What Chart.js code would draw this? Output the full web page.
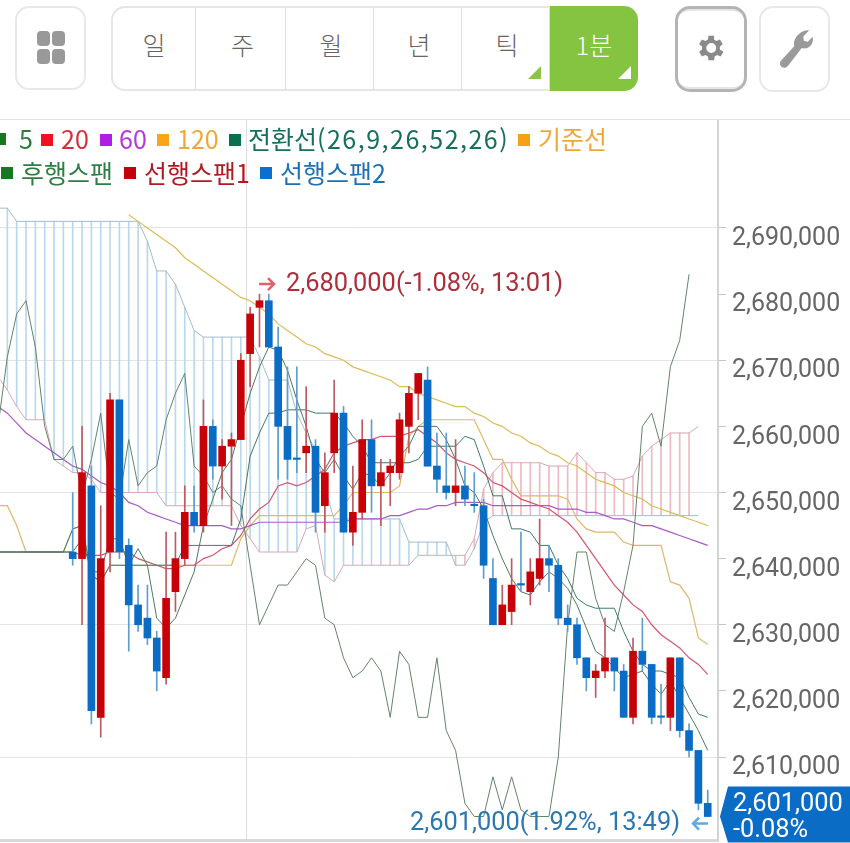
<!DOCTYPE html>
<html lang="ko">
<head>
<meta charset="utf-8">
<title>차트</title>
<script src="https://cdn.jsdelivr.net/npm/chart.js@4"></script>
<style>
  html, body { margin: 0; padding: 0; background: #fff; width: 850px; height: 843px; overflow: hidden; }
  #wrap { position: relative; width: 850px; height: 843px; font-family: "Noto Sans CJK KR", "Noto Sans", sans-serif; }
  canvas { position: absolute; left: 0; top: 0; }
  .box { position: absolute; top: 6px; height: 84px; box-sizing: border-box; border: 2px solid #e8e8e8; border-radius: 14px; background: #fff; }
  .seg { position: absolute; top: 6px; height: 85px; box-sizing: border-box; border-top: 2px solid #e6e6e6; border-bottom: 2px solid #e6e6e6; border-right: 1px solid #dedede; color: #666; font-size: 25px; font-weight: 300; text-align: center; line-height: 72px; background: #fff; }
  .tri { position: absolute; width: 0; height: 0; border-left: 13px solid transparent; border-bottom: 13px solid #8cc443; right: 8px; bottom: 10px; }
  .dot { position: absolute; width: 13px; height: 15px; background: #999; border-radius: 4px; }
  .leg { position: absolute; font-size: 25px; line-height: 30px; white-space: nowrap; }
  .sq { position: absolute; width: 12px; height: 12px; }
  #topline { position: absolute; left: 0; top: 119px; width: 850px; height: 1px; background: #e2e2e2; }
</style>
</head>
<body>
<div id="wrap">
  <canvas id="chart" width="850" height="843"></canvas>
  <div id="topline"></div>

  <div class="box" style="left:15px;width:71px;">
    <div class="dot" style="left:20px;top:23px;"></div><div class="dot" style="left:35px;top:23px;"></div>
    <div class="dot" style="left:20px;top:41px;"></div><div class="dot" style="left:35px;top:41px;"></div>
  </div>

  <div class="seg" style="left:111px;width:85px;border-left:2px solid #e6e6e6;border-radius:14px 0 0 14px;">일</div>
  <div class="seg" style="left:196px;width:90px;padding-left:4px;">주</div>
  <div class="seg" style="left:286px;width:88px;padding-left:3px;">월</div>
  <div class="seg" style="left:374px;width:88px;padding-left:3px;">년</div>
  <div class="seg" style="left:462px;width:88px;padding-left:3px;">틱<div class="tri"></div></div>
  <div class="seg" style="left:550px;width:88px;background:#85c441;color:#fff;border:none;border-radius:0 14px 14px 0;line-height:76px;">1분<div class="tri" style="border-bottom-color:#fff;right:7px;bottom:12px;"></div></div>

  <div class="box" style="left:675px;width:72px;height:86px;border:3px solid #b4b4b4;border-radius:15px;box-shadow:inset 0 6px 0 -4px #e6e6e6, inset 0 -9px 0 -7px #e6e6e6;">
    <svg width="34" height="34" viewBox="0 0 24 24" style="position:absolute;left:16px;top:22px;"><path fill="#8a8a8a" d="M19.4 13a7.6 7.6 0 0 0 0-2l2.1-1.6-2-3.4-2.5 1a7.400 7.400 0 0 0-1.700-1L15.400 3.300h-4l-.4 2.700a7.400 7.400 0 0 0-1.700 1l-2.500-1-2 3.400L6.900 11a7.600 7.600 0 0 0 0 2l-2.100 1.600 2 3.400 2.500-1a7.400 7.400 0 0 0 1.700 1l.4 2.700h4l.4-2.700a7.400 7.400 0 0 0 1.700-1l2.500 1 2-3.400zM13.400 15.500a3.500 3.500 0 1 1 0-7 3.500 3.500 0 0 1 0 7z" transform="translate(-1.200 0)"/></svg>
  </div>
  <div class="box" style="left:759px;width:71px;height:86px;">
    <svg width="36" height="42" viewBox="0 0 24 28" style="position:absolute;left:16px;top:20px;"><path fill="#9a9a9a" d="M21.500 1.500l-4 4.200.4 2.800 2.700.6 3.100-3.300c.7 3-.3 5.600-2.600 7-1.500.9-3.200 1-4.600.5L7.500 25c-1.100 1.600-3 2-4.300 1-1.400-1-1.600-2.800-.6-4.200l8.900-9.700c-.5-1.900-.1-4 1.300-6.100 1.900-2.900 5.400-5 8.700-4.500z"/></svg>
  </div>

  <div class="sq" style="left:-6px;top:133px;background:#17791f;"></div>
  <div class="leg" style="left:19px;top:123px;color:#2b7d3e;">5</div>
  <div class="sq" style="left:41px;top:134px;background:#f01020;"></div>
  <div class="leg" style="left:61px;top:123px;color:#d4303c;">20</div>
  <div class="sq" style="left:100px;top:134px;background:#b01ee6;"></div>
  <div class="leg" style="left:119px;top:123px;color:#b23ad8;">60</div>
  <div class="sq" style="left:157px;top:134px;background:#f9a51a;"></div>
  <div class="leg" style="left:177px;top:123px;color:#eea83a;">120</div>
  <div class="sq" style="left:229px;top:134px;background:#07704f;"></div>
  <div class="leg" style="left:248px;top:123px;color:#17705c;">전환선<span style="letter-spacing:1.5px;">(26,9,26,52,26)</span></div>
  <div class="sq" style="left:518px;top:134px;background:#f5a219;"></div>
  <div class="leg" style="left:538px;top:123px;color:#eea83a;">기준선</div>

  <div class="sq" style="left:1px;top:167px;background:#17791f;"></div>
  <div class="leg" style="left:21px;top:157px;color:#2f7d45;">후행스팬</div>
  <div class="sq" style="left:124px;top:167px;background:#c4000b;"></div>
  <div class="leg" style="left:144px;top:157px;color:#b01a22;">선행스팬1</div>
  <div class="sq" style="left:260px;top:167px;background:#0b6fd0;"></div>
  <div class="leg" style="left:280px;top:157px;color:#1c72b4;">선행스팬2</div>
</div>

<script>
// values are in thousands of won
var tickPrices = [2610, 2620, 2630, 2640, 2650, 2660, 2670, 2680, 2690];

// candles start at bar 8, the bars before that only have lines
var firstCandle = 8;
var opens = [2641,2640,2651,2616,2641,2664,2642,2633,2631,2628,2622,2635,2640,2647,2645,2660,2654,2657,2658,2671,2678,2679,2672,2660,2655,2656,2657,2648,2656,2662,2644,2647,2658,2651,2653,2653,2660,2665,2667,2654,2651,2650,2651,2648,2648,2637,2630,2632,2636,2635,2637,2640,2639,2631,2630,2625,2622,2623,2625,2623,2616,2626,2624,2616,2616,2625,2614,2611,2603];
var highs = [2650,2660,2654,2648,2665,2664,2643,2636,2636,2629,2644,2644,2651,2651,2664,2661,2658,2659,2671,2678,2680,2680,2675,2669,2669,2666,2658,2656,2667,2663,2654,2661,2661,2655,2655,2662,2666,2668,2669,2659,2659,2658,2654,2653,2649,2640,2636,2640,2644,2640,2646,2642,2640,2633,2631,2625,2624,2631,2625,2624,2628,2631,2624,2621,2625,2625,2615,2611,2605];
var lows = [2639,2630,2615,2613,2638,2640,2626,2629,2627,2620,2621,2632,2639,2644,2644,2652,2649,2645,2658,2666,2672,2672,2652,2652,2653,2653,2644,2644,2653,2644,2642,2646,2647,2645,2648,2652,2656,2661,2654,2650,2649,2648,2648,2647,2637,2630,2630,2630,2635,2633,2636,2635,2630,2629,2624,2620,2619,2622,2620,2616,2615,2623,2615,2615,2614,2613,2610,2602,2601];
var closes = [2640,2653,2617,2640,2664,2641,2633,2630,2628,2623,2634,2640,2647,2645,2660,2654,2657,2658,2670,2677,2679,2672,2660,2655,2655,2657,2647,2653,2662,2644,2647,2658,2651,2653,2654,2661,2665,2668,2654,2652,2650,2651,2649,2648,2639,2630,2633,2636,2636,2638,2640,2639,2631,2630,2625,2622,2623,2625,2623,2616,2626,2624,2616,2616,2625,2614,2611,2603,2601];

// lines, one value per bar from bar 0
var ma5 = [2641,2641,2641,2641,2641,2641,2641,2641,2641,2643,2638,2638,2643,2643,2639,2641.5,2639,2631,2629.5,2631,2634.5,2638,2645,2649,2653,2655,2660,2665,2669,2672,2671.5,2668.5,2664,2660,2655,2653,2655,2652.5,2650.5,2653,2652.5,2651,2653,2655.5,2657,2660,2660,2660,2658,2655,2651,2650,2647.5,2643.5,2640,2637,2635,2634.5,2636.5,2638,2637,2635.5,2633,2629.5,2626,2625,2623.5,2622,2622.5,2623,2621,2619.5,2621.5,2619,2616.5,2614,2611];
var ma20 = [2641,2641,2641,2641,2641,2641,2641,2641,2641,2640.5,2640.5,2640.5,2641,2641,2641,2640,2639.5,2639,2638.5,2638.5,2639,2639,2640,2640.5,2641.5,2642,2643.5,2646,2647.5,2648.5,2651,2651.5,2651,2651.5,2652.5,2653.5,2656,2657,2657.5,2658,2658,2658.5,2658.5,2658.5,2659,2659.5,2658.5,2657.5,2656,2655,2654.5,2654,2653,2651.5,2651,2650,2649,2648.5,2648,2647.5,2646.5,2645.5,2644,2642,2640,2638,2636,2634.5,2633,2632,2630,2628.5,2627.5,2626.5,2625,2624,2622.5];
var ma60 = [2663,2662,2660.5,2659,2658,2657,2656,2655,2654,2653.5,2652.5,2651.5,2651,2650,2648.5,2648,2647,2646.5,2646,2645.5,2645,2645,2645,2645,2645,2644.5,2644.5,2645,2645.5,2645.5,2645.5,2645.5,2645.5,2645.5,2645.5,2645.5,2645.5,2645.5,2646,2646,2646,2646,2646.5,2646.5,2647,2647.5,2647.5,2648,2648,2648.5,2648.5,2648.5,2648.5,2648,2648,2648,2648,2648,2648,2648,2647.5,2647.5,2647.5,2647,2647,2646.5,2646,2646,2645.5,2645,2645,2644.5,2644,2643.5,2643,2642.5,2642];
var ma120 = [null,null,null,null,null,null,null,null,null,null,null,null,null,null,2692,2691,2690,2689,2688,2687,2685.5,2684.5,2683.5,2682.5,2681.5,2680.5,2679.5,2679,2678,2677,2675.5,2674.5,2673.5,2672.5,2672,2671,2670.5,2670,2669,2668.5,2668,2667.5,2667,2666,2666,2665,2664.5,2664,2663.5,2663,2663,2662,2661.5,2660.5,2660,2659,2658.5,2657.5,2657,2656,2655.5,2654.5,2654,2653,2652,2651.5,2651,2650,2649.5,2649,2648,2647.5,2647,2646.5,2646,2645.5,2645];
var tenkan = [2641,2641,2641,2641,2641,2641,2641,2641,2644.5,2645,2637.5,2636.5,2639,2639,2639,2639,2639,2639,2639,2639,2642,2642,2642,2642,2642,2642,2646,2655.5,2659,2662,2662,2662.5,2662.5,2662.5,2662,2662,2662,2660.5,2658.5,2657,2654.5,2654.5,2654.5,2654.5,2654.5,2655,2657,2657,2657,2657,2658.5,2658,2654,2649.5,2649.5,2644.5,2644.5,2644,2642,2642,2639,2637,2634,2633,2632.5,2632.5,2632.5,2629,2626,2624,2623,2623,2622.5,2622,2619,2616.5,2616];
var kijun = [2648,2648,2645,2641,2641,2641,2641,2641,2644.5,2645,2637.5,2636.5,2639,2639,2639,2639,2639,2639,2639,2639,2639,2639,2639,2639,2639,2639,2643,2645,2646.5,2646.5,2646.5,2646.5,2646.5,2646.5,2646.5,2646.5,2646.5,2648,2650,2650,2650,2650,2650,2651,2658.5,2660,2661,2661,2661,2661,2661,2661,2658,2655,2655,2652,2649.5,2649.5,2649.5,2649.5,2649.5,2649,2646,2644.5,2644,2644,2644,2642.5,2642,2642,2642,2642,2636.5,2636,2634,2628,2627];
var lagSpan = [2660,2670.5,2677,2679,2672,2660,2655,2655,2657,2649.5,2655,2662,2650,2649,2658,2651,2653,2654,2661,2665,2668,2654,2652.5,2650,2651,2649,2648,2639,2630,2633,2636,2636,2638,2640,2639,2631,2630,2625,2622,2623,2625,2623,2616,2626,2624,2616,2616,2625,2614,2611,2603,2601,2601,2607,2602,2607,2602,2601,2601,2601,2610,2630,2641,2641,2634,2630,2629,2635,2642,2660,2662,2657,2669,2673,2683];
var spanA = [2667.5,2665.5,2663,2661,2661,2661,2655,2654,2653,2653,2652,2650,2650,2650,2650,2650,2650,2650,2648,2648,2648,2648,2648,2648,2648,2648,2645,2643,2641,2641,2641,2641,2641,2644.5,2645,2637.5,2636.5,2639,2639,2639,2639,2639,2639,2639,2639,2640.5,2640.5,2640.5,2640.5,2640.5,2640.5,2643,2650.5,2653,2654.5,2654.5,2654.5,2654.5,2654.5,2654,2654,2654,2656,2654.5,2653,2653,2652,2652,2652.5,2655.5,2657,2658,2659,2659,2659,2660];
var spanB = [2693,2693,2691,2691,2691,2691,2691,2691,2691,2691,2691,2691,2691,2691,2691,2691,2688,2683.5,2683.5,2681.5,2678,2674.5,2673.5,2673.5,2673.5,2673.5,2673.5,2673.5,2670.5,2667,2667,2667,2662,2659,2656.5,2650.5,2646,2646,2646,2646,2646,2646,2646,2646,2642.5,2642.5,2642.5,2642.5,2642.5,2639,2639,2641.5,2645.5,2646.5,2646.5,2646.5,2646.5,2646.5,2646.5,2646.5,2646.5,2646.5,2646.5,2646.5,2646.5,2646.5,2646.5,2646.5,2646.5,2646.5,2646.5,2646.5,2646.5,2646.5,2646.5,2646.5];

var highNote = '2,680,000(-1.08%, 13:01)';
var lowNote = '2,601,000(1.92%, 13:49)';
var tagPrice = '2,601,000';
var tagChange = '-0.08%';
var noteHigh = 2680;
var noteLow = 2601;
var timeBoundary = 26.66; // the one vertical grid line

var red = '#c80008';
var blue = '#0b6cc6';
var labelFont = '25.4px Roboto';

function toPoints(values) {
  return values.map(function (v, i) { return { x: i, y: v }; });
}

var wickRed = [], wickBlue = [], bodyRed = [], bodyBlue = [];
closes.forEach(function (c, k) {
  var x = k + firstCandle;
  var up = c > opens[k];
  (up ? wickRed : wickBlue).push({ x: x, y: [lows[k], highs[k]] });
  (up ? bodyRed : bodyBlue).push({ x: x, y: [opens[k], c] });
});

// hatching of the cloud, blue while span 2 is on top, red after it crosses
var hatchBlue = [], hatchRed = [];
spanA.forEach(function (a, i) {
  if (i === spanA.length - 1) return; // last span point has no hatch line
  (spanB[i] >= a ? hatchBlue : hatchRed).push({ x: i, y: [a, spanB[i]] });
});

function barSet(data, color, width, order, minLength) {
  return { type: 'bar', data: data, backgroundColor: color, barThickness: width, grouped: false, order: order, minBarLength: minLength || 0 };
}
function lineSet(values, color, order, width) {
  return { type: 'line', data: toPoints(values), borderColor: color, borderWidth: width || 1, pointRadius: 0, tension: 0, spanGaps: false, order: order };
}

// notes and the price tag, anchored on the price scale
var notesPlugin = {
  id: 'notes',
  afterDraw: function (chart) {
    var ctx = chart.ctx;
    var y = chart.scales.y;
    ctx.save();
    ctx.font = labelFont;
    ctx.textBaseline = 'middle';

    var yHigh = y.getPixelForValue(noteHigh) - 9;
    ctx.fillStyle = '#ad2f3c';
    ctx.textAlign = 'left';
    ctx.fillText(highNote, 286, yHigh);
    drawArrow(ctx, 259, 274, yHigh - 1, '#e4606a');

    var yLow = y.getPixelForValue(noteLow) + 7;
    ctx.fillStyle = '#2b78b0';
    ctx.textAlign = 'right';
    ctx.fillText(lowNote, 680, yLow);
    drawArrow(ctx, 708, 693, yLow, '#62a8e2');

    var yTag = y.getPixelForValue(noteLow);
    ctx.fillStyle = '#0b6cc6';
    ctx.beginPath();
    ctx.moveTo(720, yTag);
    ctx.lineTo(728, yTag - 30);
    ctx.lineTo(850, yTag - 30);
    ctx.lineTo(850, yTag + 26);
    ctx.lineTo(728, yTag + 26);
    ctx.closePath();
    ctx.fill();
    ctx.fillStyle = '#fff';
    ctx.textAlign = 'left';
    ctx.fillText(tagPrice, 733, yTag - 12);
    ctx.fillText(tagChange, 733, yTag + 14);
    ctx.restore();
  }
};

function drawArrow(ctx, from, to, y, color) {
  var dir = to > from ? 1 : -1;
  ctx.save();
  ctx.strokeStyle = color;
  ctx.lineWidth = 2.5;
  ctx.beginPath();
  ctx.moveTo(from, y);
  ctx.lineTo(to, y);
  ctx.moveTo(to - 6 * dir, y - 6);
  ctx.lineTo(to, y);
  ctx.lineTo(to - 6 * dir, y + 6);
  ctx.stroke();
  ctx.restore();
}

new Chart(document.getElementById('chart').getContext('2d'), {
  type: 'bar',
  data: {
    datasets: [
      barSet(hatchBlue, '#bad8ec', 1, 20),
      barSet(hatchRed, '#eeb9c2', 1, 20),
      lineSet(spanB, '#a3bccb', 10),
      lineSet(spanA, '#d8a8b2', 10),
      lineSet(ma120, '#dcbc55', 9, 1.2),
      lineSet(kijun, '#e0b768', 8, 1.2),
      lineSet(ma60, '#a85ac6', 7, 1.2),
      lineSet(ma20, '#d2566e', 6, 1.2),
      lineSet(lagSpan, '#62846a', 5),
      lineSet(tenkan, '#3e7a6c', 5),
      lineSet(ma5, '#4f7860', 4),
      barSet(wickRed, '#bd5a62', 1, 2),
      barSet(wickBlue, '#5c9fcf', 1, 2),
      barSet(bodyRed, red, 7, 1, 1.5),
      barSet(bodyBlue, blue, 7, 1, 1.5)
    ]
  },
  options: {
    responsive: false,
    animation: false,
    layout: { padding: { top: 120, bottom: 3, left: 0, right: 0 } },
    plugins: { legend: { display: false }, tooltip: { enabled: false } },
    scales: {
      x: {
        type: 'linear',
        min: 0.214,
        max: 77.1,
        offset: false,
        afterBuildTicks: function (axis) { axis.ticks = [{ value: timeBoundary }]; },
        grid: { color: '#dcdcdc', drawTicks: false, offset: false },
        border: { color: '#d8d8d8', width: 3 },
        ticks: { display: false }
      },
      y: {
        position: 'right',
        min: 2597.45,
        max: 2706.33,
        afterFit: function (scale) {
          scale.width = 132;
          // labels hang below their ticks, no room to reserve above or below
          scale.paddingTop = 0;
          scale.paddingBottom = 0;
        },
        afterBuildTicks: function (axis) {
          axis.ticks = tickPrices.map(function (v) { return { value: v }; });
        },
        grid: {
          // only every second price has a grid line, all have a tick mark
          color: function (c) { return (c.tick.value / 10) % 2 === 1 ? '#e4e4e4' : 'rgba(0,0,0,0)'; },
          tickColor: '#c4c4c4',
          tickLength: 8,
          lineWidth: 1
        },
        border: { color: '#d4d4d4', width: 2 },
        ticks: {
          color: '#666',
          font: { family: 'Roboto', size: 25 },
          padding: 6,
          labelOffset: 11,
          callback: function (v) { return (v * 1000).toLocaleString('en-US'); }
        }
      }
    }
  },
  plugins: [notesPlugin]
});
</script>
</body>
</html>
